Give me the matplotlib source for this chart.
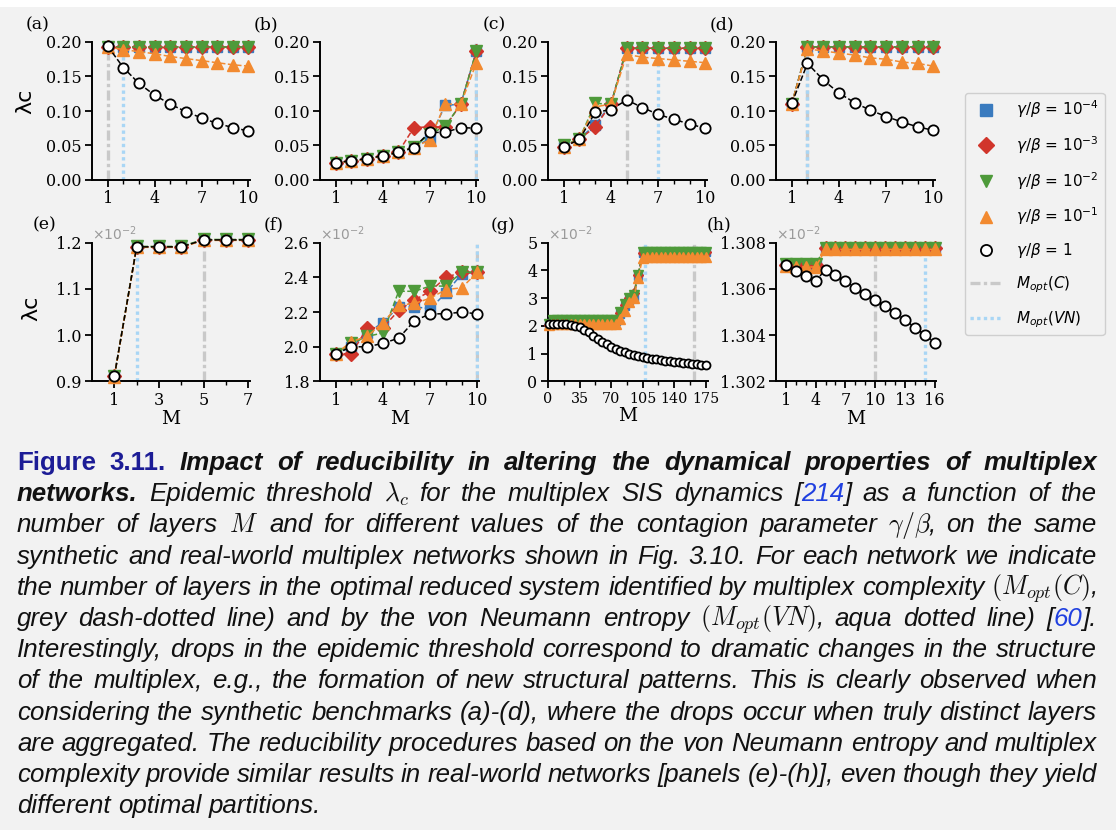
import matplotlib

matplotlib.use("Agg")
import matplotlib.pyplot as plt
from matplotlib.lines import Line2D
from matplotlib.patches import Rectangle
from matplotlib.ticker import FixedLocator, FormatStrFormatter

W, H = 1116, 830
BG = "#f2f2f2"
BLUE = "#3a7bbf"
RED = "#d1352b"
GREEN = "#4e9a3a"
ORANGE = "#f28a30"
GREY_LINE = "#c9c9c9"
AQUA_LINE = "#a9d6f5"
DASHDOT = (0, (3, 1, 1, 1))
DOTTED = (0, (1, 1))

# ---- epidemic thresholds, synthetic benchmarks (a)-(d) ----
M10 = [1, 2, 3, 4, 5, 6, 7, 8, 9, 10]

a_sq = [0.193, 0.193, 0.193, 0.193, 0.193, 0.193, 0.193, 0.193, 0.193, 0.193]
a_di = [0.193, 0.193, 0.193, 0.193, 0.193, 0.193, 0.193, 0.193, 0.193, 0.193]
a_dn = [0.193, 0.193, 0.193, 0.193, 0.193, 0.193, 0.193, 0.193, 0.193, 0.193]
a_up = [0.193, 0.189, 0.186, 0.183, 0.179, 0.176, 0.173, 0.170, 0.167, 0.165]
a_ci = [0.194, 0.163, 0.140, 0.123, 0.110, 0.099, 0.090, 0.082, 0.076, 0.071]

b_sq = [0.025, 0.027, 0.030, 0.035, 0.040, 0.047, 0.060, 0.108, 0.110, 0.187]
b_di = [0.025, 0.027, 0.030, 0.035, 0.040, 0.076, 0.077, 0.077, 0.110, 0.187]
b_dn = [0.025, 0.027, 0.030, 0.035, 0.040, 0.048, 0.066, 0.078, 0.110, 0.187]
b_up = [0.025, 0.027, 0.030, 0.035, 0.040, 0.047, 0.058, 0.110, 0.110, 0.170]
b_ci = [0.025, 0.028, 0.031, 0.035, 0.040, 0.047, 0.069, 0.069, 0.076, 0.075]

c_sq = [0.048, 0.060, 0.080, 0.110, 0.191, 0.191, 0.191, 0.191, 0.191, 0.191]
c_di = [0.048, 0.059, 0.077, 0.110, 0.191, 0.191, 0.191, 0.191, 0.191, 0.191]
c_dn = [0.050, 0.060, 0.111, 0.110, 0.191, 0.191, 0.191, 0.191, 0.191, 0.191]
c_up = [0.048, 0.060, 0.106, 0.110, 0.182, 0.178, 0.176, 0.174, 0.172, 0.170]
c_ci = [0.048, 0.059, 0.098, 0.102, 0.116, 0.105, 0.095, 0.088, 0.081, 0.075]

d_sq = [0.110, 0.193, 0.193, 0.193, 0.193, 0.193, 0.193, 0.193, 0.193, 0.193]
d_di = [0.110, 0.193, 0.193, 0.193, 0.193, 0.193, 0.193, 0.193, 0.193, 0.193]
d_dn = [0.110, 0.193, 0.193, 0.193, 0.193, 0.193, 0.193, 0.193, 0.193, 0.193]
d_up = [0.110, 0.190, 0.187, 0.184, 0.181, 0.177, 0.175, 0.171, 0.169, 0.165]
d_ci = [0.111, 0.169, 0.145, 0.126, 0.112, 0.101, 0.092, 0.084, 0.077, 0.072]

# ---- real-world multiplexes (e)-(h), values in units of 10^-2 ----
M7 = [1, 2, 3, 4, 5, 6, 7]
e_sq = [0.911, 1.191, 1.191, 1.191, 1.206, 1.206, 1.206]
e_di = [0.911, 1.191, 1.191, 1.191, 1.206, 1.206, 1.206]
e_dn = [0.911, 1.192, 1.192, 1.192, 1.207, 1.207, 1.207]
e_up = [0.910, 1.190, 1.190, 1.190, 1.205, 1.205, 1.205]
e_ci = [0.911, 1.191, 1.191, 1.191, 1.206, 1.206, 1.206]

f_sq = [1.96, 2.00, 2.08, 2.14, 2.23, 2.23, 2.22, 2.31, 2.42, 2.43]
f_di = [1.96, 1.96, 2.11, 2.11, 2.21, 2.27, 2.32, 2.40, 2.43, 2.43]
f_dn = [1.96, 2.02, 2.06, 2.08, 2.32, 2.32, 2.35, 2.35, 2.43, 2.43]
f_up = [1.96, 2.03, 2.06, 2.14, 2.24, 2.25, 2.28, 2.33, 2.34, 2.43]
f_ci = [1.96, 2.00, 2.00, 2.02, 2.05, 2.15, 2.19, 2.19, 2.20, 2.19]

g_M = [1, 5, 10, 15, 20, 25, 30, 35, 40, 45, 50, 55, 60, 65, 70, 75, 80, 85,
       90, 95, 100, 105, 110, 115, 120, 125, 130, 135, 140, 145, 150, 155,
       160, 165, 170, 175]
g_sq = [2.05, 2.18, 2.18, 2.18, 2.18, 2.18, 2.18, 2.18, 2.18, 2.18, 2.18, 2.18,
        2.18, 2.18, 2.18, 2.18, 2.42, 2.72, 2.95, 3.05, 3.80, 4.62, 4.66, 4.66,
        4.66, 4.66, 4.66, 4.66, 4.66, 4.66, 4.66, 4.66, 4.66, 4.66, 4.66, 4.66]
g_di = [2.02, 2.20, 2.20, 2.20, 2.20, 2.20, 2.20, 2.20, 2.20, 2.20, 2.20, 2.20,
        2.20, 2.20, 2.20, 2.20, 2.45, 2.75, 3.00, 3.20, 3.82, 4.64, 4.67, 4.67,
        4.67, 4.67, 4.67, 4.67, 4.67, 4.67, 4.67, 4.67, 4.67, 4.67, 4.67, 4.67]
g_dn = [2.08, 2.20, 2.20, 2.20, 2.20, 2.20, 2.20, 2.20, 2.20, 2.20, 2.20, 2.20,
        2.20, 2.20, 2.20, 2.20, 2.50, 2.78, 3.00, 3.10, 3.85, 4.65, 4.68, 4.68,
        4.68, 4.68, 4.68, 4.68, 4.68, 4.68, 4.68, 4.68, 4.68, 4.68, 4.68, 4.68]
g_up = [2.05, 2.06, 2.06, 2.06, 2.06, 2.06, 2.06, 2.06, 2.06, 2.06, 2.06, 2.06,
        2.06, 2.06, 2.06, 2.06, 2.25, 2.55, 2.85, 3.00, 3.72, 4.45, 4.50, 4.50,
        4.50, 4.50, 4.50, 4.50, 4.50, 4.50, 4.50, 4.50, 4.50, 4.50, 4.50, 4.50]
g_ci = [2.07, 2.07, 2.07, 2.07, 2.06, 2.05, 2.01, 1.95, 1.87, 1.77, 1.65, 1.53,
        1.43, 1.34, 1.25, 1.18, 1.11, 1.05, 1.00, 0.95, 0.92, 0.88, 0.84, 0.82,
        0.80, 0.77, 0.75, 0.73, 0.71, 0.69, 0.67, 0.65, 0.64, 0.63, 0.61, 0.59]

M16 = [1, 2, 3, 4, 5, 6, 7, 8, 9, 10, 11, 12, 13, 14, 15, 16]
h_sq = [1.30705, 1.30705, 1.30705, 1.30705, 1.30777, 1.30777, 1.30777, 1.30777,
        1.30777, 1.30777, 1.30777, 1.30777, 1.30777, 1.30777, 1.30777, 1.30777]
h_di = [1.30703, 1.30703, 1.30703, 1.30703, 1.30776, 1.30776, 1.30776, 1.30776,
        1.30776, 1.30776, 1.30776, 1.30776, 1.30776, 1.30776, 1.30776, 1.30776]
h_dn = [1.30708, 1.30708, 1.30708, 1.30708, 1.30779, 1.30779, 1.30779, 1.30779,
        1.30779, 1.30779, 1.30779, 1.30779, 1.30779, 1.30779, 1.30779, 1.30779]
h_up = [1.30700, 1.30695, 1.30695, 1.30695, 1.30771, 1.30771, 1.30771, 1.30771,
        1.30771, 1.30771, 1.30771, 1.30771, 1.30771, 1.30771, 1.30771, 1.30771]
h_ci = [1.30703, 1.30679, 1.30655, 1.30634, 1.30684, 1.30660, 1.30634, 1.30606,
        1.30580, 1.30554, 1.30525, 1.30497, 1.30468, 1.30433, 1.30403, 1.30368]

# optimal number of layers: multiplex complexity C and von Neumann entropy VN
mopt_c = {"a": 1, "b": 10, "c": 5, "d": 2, "e": 5, "f": 10, "g": 162, "h": 10}
mopt_vn = {"a": 2, "b": 10, "c": 7, "d": 2, "e": 2, "f": 10, "g": 108, "h": 15}

legend_labels = [r"$\gamma/\beta$ = 10$^{-4}$", r"$\gamma/\beta$ = 10$^{-3}$",
                 r"$\gamma/\beta$ = 10$^{-2}$", r"$\gamma/\beta$ = 10$^{-1}$",
                 r"$\gamma/\beta$ = 1", r"$M_{opt}(C)$", r"$M_{opt}(VN)$"]

caption_lines = [
    [("Figure 3.11.", "fig"),
     (" Impact of reducibility in altering the dynamical properties of multiplex", "bi")],
    [("networks.", "bi"),
     (" Epidemic threshold $\\lambda_c$ for the multiplex SIS dynamics [", "i"),
     ("214", "link"), ("] as a function of the", "i")],
    [("number of layers $M$ and for different values of the contagion parameter "
      "$\\gamma/\\beta$, on the same", "i")],
    [("synthetic and real-world multiplex networks shown in Fig. 3.10. For each "
      "network we indicate", "i")],
    [("the number of layers in the optimal reduced system identified by multiplex "
      "complexity $(M_{opt}(C)$,", "i")],
    [("grey dash-dotted line) and by the von Neumann entropy $(M_{opt}(VN)$, aqua "
      "dotted line) [", "i"), ("60", "link"), ("].", "i")],
    [("Interestingly, drops in the epidemic threshold correspond to dramatic "
      "changes in the structure", "i")],
    [("of the multiplex, e.g., the formation of new structural patterns. This is "
      "clearly observed when", "i")],
    [("considering the synthetic benchmarks (a)-(d), where the drops occur when "
      "truly distinct layers", "i")],
    [("are aggregated. The reducibility procedures based on the von Neumann "
      "entropy and multiplex", "i")],
    [("complexity provide similar results in real-world networks [panels (e)-(h)], "
      "even though they yield", "i")],
    [("different optimal partitions.", "i")],
]

CAPTION_FONT = dict(family="Liberation Sans", size=18.6, math_fontfamily="cm")
CAPTION_STYLES = {
    "fig": dict(color="#1c1c96", fontweight="bold", fontstyle="normal"),
    "bi": dict(color="#111111", fontweight="bold", fontstyle="italic"),
    "i": dict(color="#111111", fontstyle="italic"),
    "link": dict(color="#2040e0", fontstyle="italic"),
}

plt.rcParams["font.family"] = "DejaVu Serif"

fig = plt.figure(figsize=(W / 100, H / 100), dpi=100, facecolor=BG)
fig.add_artist(Rectangle((0, 1 - 7 / H), 1, 7 / H, transform=fig.transFigure,
                         facecolor="white", edgecolor="none"))


def px_axes(left, right, top, bottom):
    return fig.add_axes([left / W, 1 - bottom / H, (right - left) / W, (bottom - top) / H])


def draw_panel(ax, key, x, series, small=False):
    ax.axvline(mopt_c[key], color=GREY_LINE, lw=2.4, ls=DASHDOT, zorder=1)
    ax.axvline(mopt_vn[key], color=AQUA_LINE, lw=2.4, ls=DOTTED, zorder=1.1)
    sq, di, dn, up, ci = series
    k = 0.78 if small else 1.0
    common = dict(ls="--", lw=1.1, clip_on=False)
    ax.plot(x, sq, marker="s", ms=7 * k, color=BLUE, mec=BLUE, zorder=3, **common)
    ax.plot(x, di, marker="D", ms=7 * k, color=RED, mec=RED, zorder=3.1, **common)
    ax.plot(x, dn, marker="v", ms=8.5 * k, color=GREEN, mec=GREEN, zorder=3.2, **common)
    ax.plot(x, up, marker="^", ms=8.5 * k, color=ORANGE, mec=ORANGE, zorder=3.3, **common)
    ax.plot(x, ci, marker="o", ms=7.4 * k, color="black", mfc="white", mec="black",
            mew=1.3, zorder=3.4, **common)


def style_axes(ax, xlim, xmajor, xminor, ylim, yticks, yfmt, label, label_dx, label_y,
               xlabel=False, scaled=False, xsize=11.5):
    ax.patch.set_alpha(0)
    ax.set_xlim(*xlim)
    ax.set_ylim(*ylim)
    ax.set_xticks(xmajor)
    ax.xaxis.set_minor_locator(FixedLocator(xminor))
    ax.set_yticks(yticks)
    ax.yaxis.set_major_formatter(FormatStrFormatter(yfmt))
    for side in ("top", "right"):
        ax.spines[side].set_visible(False)
    for side in ("left", "bottom"):
        ax.spines[side].set_linewidth(1.4)
    ax.tick_params(which="major", length=5, width=1.3, labelsize=11.5, pad=2.5)
    ax.tick_params(axis="x", which="major", labelsize=xsize)
    ax.tick_params(which="minor", length=3, width=1.0)
    bb = ax.get_position()
    fig.text(bb.x0 + label_dx / W, 1 - label_y / H, label, ha="center", va="center",
             fontsize=12.5)
    if xlabel:
        ax.set_xlabel("M", fontsize=13.5, labelpad=1)
    if scaled:
        ax.text(0.0, 1.0, r"$\times10^{-2}$", transform=ax.transAxes, ha="left",
                va="bottom", color="#9a9a9a", fontsize=10, family="DejaVu Sans")


top_edges = [(92, 250), (320, 478), (548, 707), (776, 935)]
TOP_T, TOP_B = 42, 180
BOT_T, BOT_B = 242.7, 381.5

top_panels = [
    ("a", (a_sq, a_di, a_dn, a_up, a_ci)),
    ("b", (b_sq, b_di, b_dn, b_up, b_ci)),
    ("c", (c_sq, c_di, c_dn, c_up, c_ci)),
    ("d", (d_sq, d_di, d_dn, d_up, d_ci)),
]
for (left, right), (key, series) in zip(top_edges, top_panels):
    ax = px_axes(left, right, TOP_T, TOP_B)
    draw_panel(ax, key, M10, series)
    style_axes(ax, (0, 10.1), [1, 4, 7, 10], M10, (0, 0.2),
               [0, 0.05, 0.10, 0.15, 0.20], "%.2f", f"({key})", -54, 25)
    if key == "a":
        ax.set_ylabel("λc", family="DejaVu Sans", fontsize=16)
        ax.yaxis.set_label_coords(-0.36, 0.57)

ax = px_axes(92, 250, BOT_T, BOT_B)
draw_panel(ax, "e", M7, (e_sq, e_di, e_dn, e_up, e_ci))
style_axes(ax, (0, 7.08), [1, 3, 5, 7], M7, (0.9, 1.2), [0.9, 1.0, 1.1, 1.2], "%.1f",
           "(e)", -48, 225, xlabel=True, scaled=True)
ax.set_ylabel("λc", family="DejaVu Sans", fontsize=16)
ax.yaxis.set_label_coords(-0.32, 0.53)

ax = px_axes(320, 479, BOT_T, BOT_B)
draw_panel(ax, "f", M10, (f_sq, f_di, f_dn, f_up, f_ci))
style_axes(ax, (0, 10.1), [1, 4, 7, 10], M10, (1.8, 2.6), [1.8, 2.0, 2.2, 2.4, 2.6],
           "%.1f", "(f)", -46, 225, xlabel=True, scaled=True)

ax = px_axes(548, 708, BOT_T, BOT_B)
draw_panel(ax, "g", g_M, (g_sq, g_di, g_dn, g_up, g_ci), small=True)
style_axes(ax, (0, 177.5), [0, 35, 70, 105, 140, 175],
           [17.5, 52.5, 87.5, 122.5, 157.5], (0, 5), [0, 1, 2, 3, 4, 5], "%d",
           "(g)", -45, 225, xlabel=True, scaled=True, xsize=10.3)

ax = px_axes(776, 936, BOT_T, BOT_B)
draw_panel(ax, "h", M16, (h_sq, h_di, h_dn, h_up, h_ci))
style_axes(ax, (0, 16.15), [1, 4, 7, 10, 13, 16], M16, (1.302, 1.308),
           [1.302, 1.304, 1.306, 1.308], "%.3f", "(h)", -57, 225, xlabel=True,
           scaled=True)

handles = [
    Line2D([], [], ls="none", marker="s", ms=8, color=BLUE),
    Line2D([], [], ls="none", marker="D", ms=8, color=RED),
    Line2D([], [], ls="none", marker="v", ms=9, color=GREEN),
    Line2D([], [], ls="none", marker="^", ms=9, color=ORANGE),
    Line2D([], [], ls="none", marker="o", ms=8, mfc="white", mec="black", mew=1.3),
    Line2D([], [], color=GREY_LINE, lw=2.4, ls=DASHDOT),
    Line2D([], [], color=AQUA_LINE, lw=2.4, ls=DOTTED),
]
fig.legend(handles, legend_labels, loc="upper left",
           bbox_to_anchor=(965 / W, 1 - 93 / H), bbox_transform=fig.transFigure,
           prop={"family": "DejaVu Sans", "size": 11}, labelspacing=0.92,
           handlelength=2.0, handletextpad=1.0, borderpad=0.35, borderaxespad=0,
           fancybox=True, framealpha=1, facecolor=BG, edgecolor="#cfcfcf")


# ---- justified caption below the panels ----
def caption_words(segments):
    words, new_word = [], True
    for text, style in segments:
        for i, part in enumerate(text.split(" ")):
            if i > 0:
                new_word = True
            if not part:
                continue
            if new_word or not words:
                words.append([(part, style)])
                new_word = False
            else:
                words[-1].append((part, style))
    return words


renderer = fig.canvas.get_renderer()
x0, x1, base0, step = 17, 1097, 470, 31.2
for row, segments in enumerate(caption_lines):
    y = 1 - (base0 + row * step) / H
    placed = []
    for word in caption_words(segments):
        pieces = []
        for text, style in word:
            t = fig.text(0, y, text, va="baseline", ha="left", **CAPTION_FONT,
                         **CAPTION_STYLES[style])
            pieces.append((t, t.get_window_extent(renderer).width))
        placed.append(pieces)
    total = sum(w for pieces in placed for _, w in pieces)
    if row == len(caption_lines) - 1:
        gap = CAPTION_FONT["size"] * 0.28 * 100 / 72
    else:
        gap = max((x1 - x0 - total) / (len(placed) - 1), 2.0)
    x = x0
    for pieces in placed:
        for t, w in pieces:
            t.set_x(x / W)
            x += w
        x += gap

fig.savefig("out.png", dpi=100, facecolor=BG)
